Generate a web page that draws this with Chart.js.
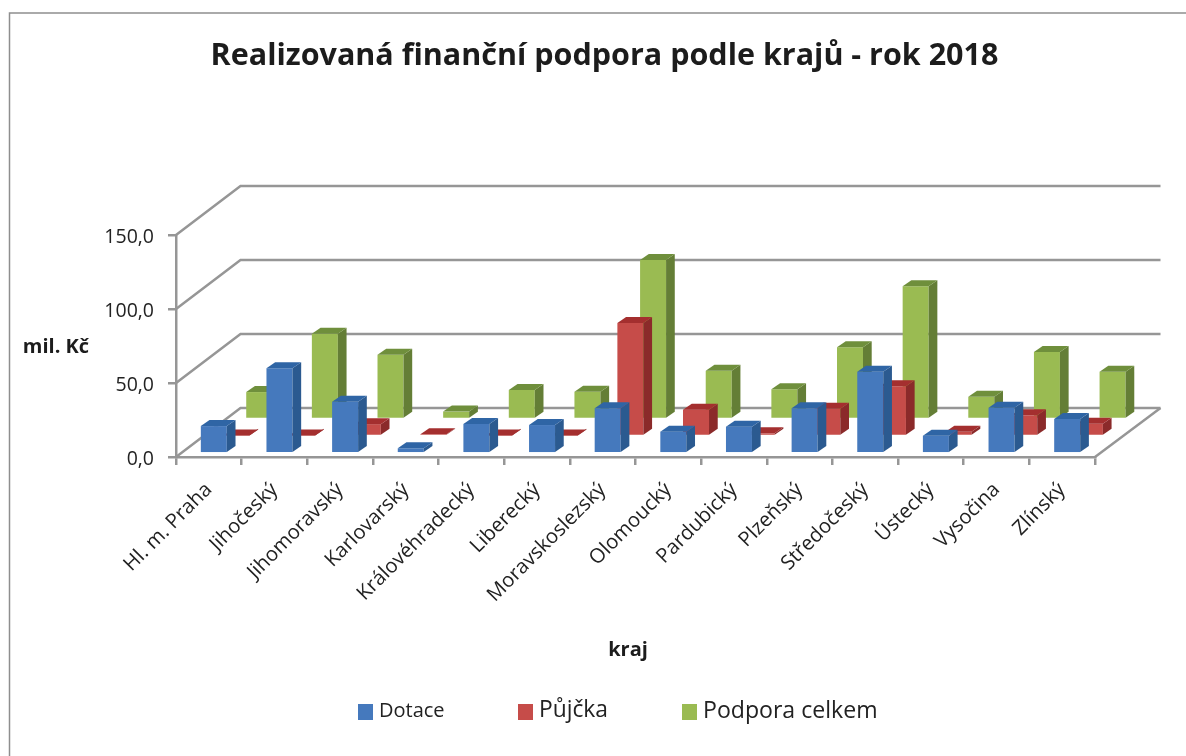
<!DOCTYPE html>
<html><head><meta charset="utf-8">
<style>html,body{margin:0;padding:0;background:#fff}#w{width:1186px;height:756px}</style>
<script src="https://cdn.jsdelivr.net/npm/chart.js@4"></script></head>
<body><div id="w"><canvas id="c" width="1186" height="756"></canvas></div>
<script>
const categories=['Hl. m. Praha','Jihočeský','Jihomoravský','Karlovarský','Královéhradecký','Liberecký','Moravskoslezský','Olomoucký','Pardubický','Plzeňský','Středočeský','Ústecký','Vysočina','Zlínský'];
const dotace=[18.4,57.4,34.9,3.4,19.8,19.1,30.4,14.6,18,30.4,55.1,11.9,30.8,23.2];
const pujcka=[0.4,0.4,8,1.2,0.4,0.4,76.4,17.8,1.8,18.4,33.6,2.8,14,8.3];
const podpora=[18.2,57.6,43.4,5,19.6,18.4,107.4,32.6,20.1,48.4,89.7,15,45.3,32];
const yTicks=[0,50,100,150];
const seriesNames=['Dotace','Půjčka','Podpora celkem'];

const FONT='"Open Sans"';
const GRID='#969696', TXT='#222';
const DEPTH={x:64.5,y:49};
const BAR3D={x:8.7,y:6};
const looks=[
 {front:'#4579bd',side:'#2b5a90',top:'#2f65a5',dx:5,dy:-3.7},
 {front:'#c64c49',side:'#8b2a2a',top:'#a42f2f',dx:27.7,dy:-21},
 {front:'#9abb52',side:'#647e36',top:'#6f8f3c',dx:50.4,dy:-38}
];
const legendPos=[
 {sw:358,tx:379,size:20},{sw:518,tx:539,size:22.8},{sw:682,tx:703,size:23.1}
];
function poly(ctx,pts,fill){ctx.fillStyle=fill;ctx.beginPath();pts.forEach((p,i)=>i?ctx.lineTo(p[0],p[1]):ctx.moveTo(p[0],p[1]));ctx.closePath();ctx.fill();}

const scene={
 id:'scene',
 beforeDatasetsDraw(chart){
  const {ctx,scales:{x,y}}=chart, L=x.left,R=x.right,B=y.getPixelForValue(0);
  ctx.save();ctx.strokeStyle=GRID;ctx.lineWidth=2.5;
  yTicks.forEach(v=>{
    const p=y.getPixelForValue(v);
    ctx.beginPath();ctx.moveTo(L,p);ctx.lineTo(L+DEPTH.x,p-DEPTH.y);ctx.lineTo(R+DEPTH.x+1,p-DEPTH.y);ctx.stroke();
  });
  ctx.beginPath();ctx.moveTo(R,B);ctx.lineTo(R+DEPTH.x+1,B-DEPTH.y);ctx.stroke();
  ctx.restore();
 },
 beforeDatasetDraw(chart,args){
  const l=looks[args.index],ctx=chart.ctx;
  ctx.save();ctx.translate(l.dx,l.dy);
 },
 afterDatasetDraw(chart,args){
  const l=looks[args.index],ctx=chart.ctx;
  args.meta.data.forEach(b=>{
    const a=b.x-b.width/2,c=b.x+b.width/2,t=b.y,base=b.base;
    poly(ctx,[[c,t],[c+BAR3D.x,t-BAR3D.y],[c+BAR3D.x,base-BAR3D.y],[c,base]],l.side);
    poly(ctx,[[a,t],[a+BAR3D.x,t-BAR3D.y],[c+BAR3D.x,t-BAR3D.y],[c,t]],l.top);
  });
  ctx.restore();
 },
 afterDraw(chart){
  const ctx=chart.ctx;
  ctx.save();
  ctx.strokeStyle='#8e8e8e';ctx.lineWidth=1.5;
  ctx.beginPath();ctx.moveTo(9.5,756);ctx.lineTo(9.5,13);ctx.lineTo(1186,13);ctx.stroke();
  ctx.fillStyle='#1c1c1c';ctx.textBaseline='middle';
  ctx.textAlign='center';ctx.font='bold 30.5px '+FONT;
  ctx.fillText('Realizovaná finanční podpora podle krajů - rok 2018',604.5,56);
  ctx.font='bold 20px '+FONT;
  ctx.fillText('mil. Kč',56,347);
  ctx.fillText('kraj',628,650);
  ctx.textAlign='left';
  chart.data.datasets.forEach((d,i)=>{
    const p=legendPos[i];
    ctx.fillStyle=d.backgroundColor;ctx.fillRect(p.sw,704,15,16);
    ctx.fillStyle=TXT;ctx.font=p.size+'px '+FONT;
    ctx.fillText(d.label,p.tx,711);
  });
  ctx.restore();
 }
};

new Chart(document.getElementById('c'),{
 type:'bar',
 data:{labels:categories,datasets:[dotace,pujcka,podpora].map((v,i)=>({
   label:seriesNames[i],data:v,backgroundColor:looks[i].front,borderWidth:0,clip:false,grouped:false,
   categoryPercentage:1,barPercentage:0.396
 }))},
 options:{
  responsive:false,animation:false,
  layout:{padding:{left:0,right:91,top:235,bottom:0}},
  plugins:{legend:{display:false},title:{display:false},tooltip:{enabled:false}},
  scales:{
   x:{
    afterFit(s){s.height=299;},
    grid:{drawOnChartArea:false,color:GRID,lineWidth:2.5,tickLength:8,offset:true},
    border:{color:GRID,width:2.5},
    ticks:{minRotation:45,maxRotation:45,autoSkip:false,color:TXT,font:{family:FONT,size:20.2},padding:13}
   },
   y:{
    min:0,max:150,
    afterFit(s){s.width=176;},
    afterBuildTicks(s){s.ticks=yTicks.map(v=>({value:v}));},
    grid:{drawOnChartArea:false,color:GRID,lineWidth:2.5,tickLength:8},
    border:{color:GRID,width:2.5},
    ticks:{color:TXT,font:{family:FONT,size:19.5},padding:14,labelOffset:2,callback:v=>v.toFixed(1).replace('.',',')}
   }
  }
 },
 plugins:[scene]
});
</script></body></html>
